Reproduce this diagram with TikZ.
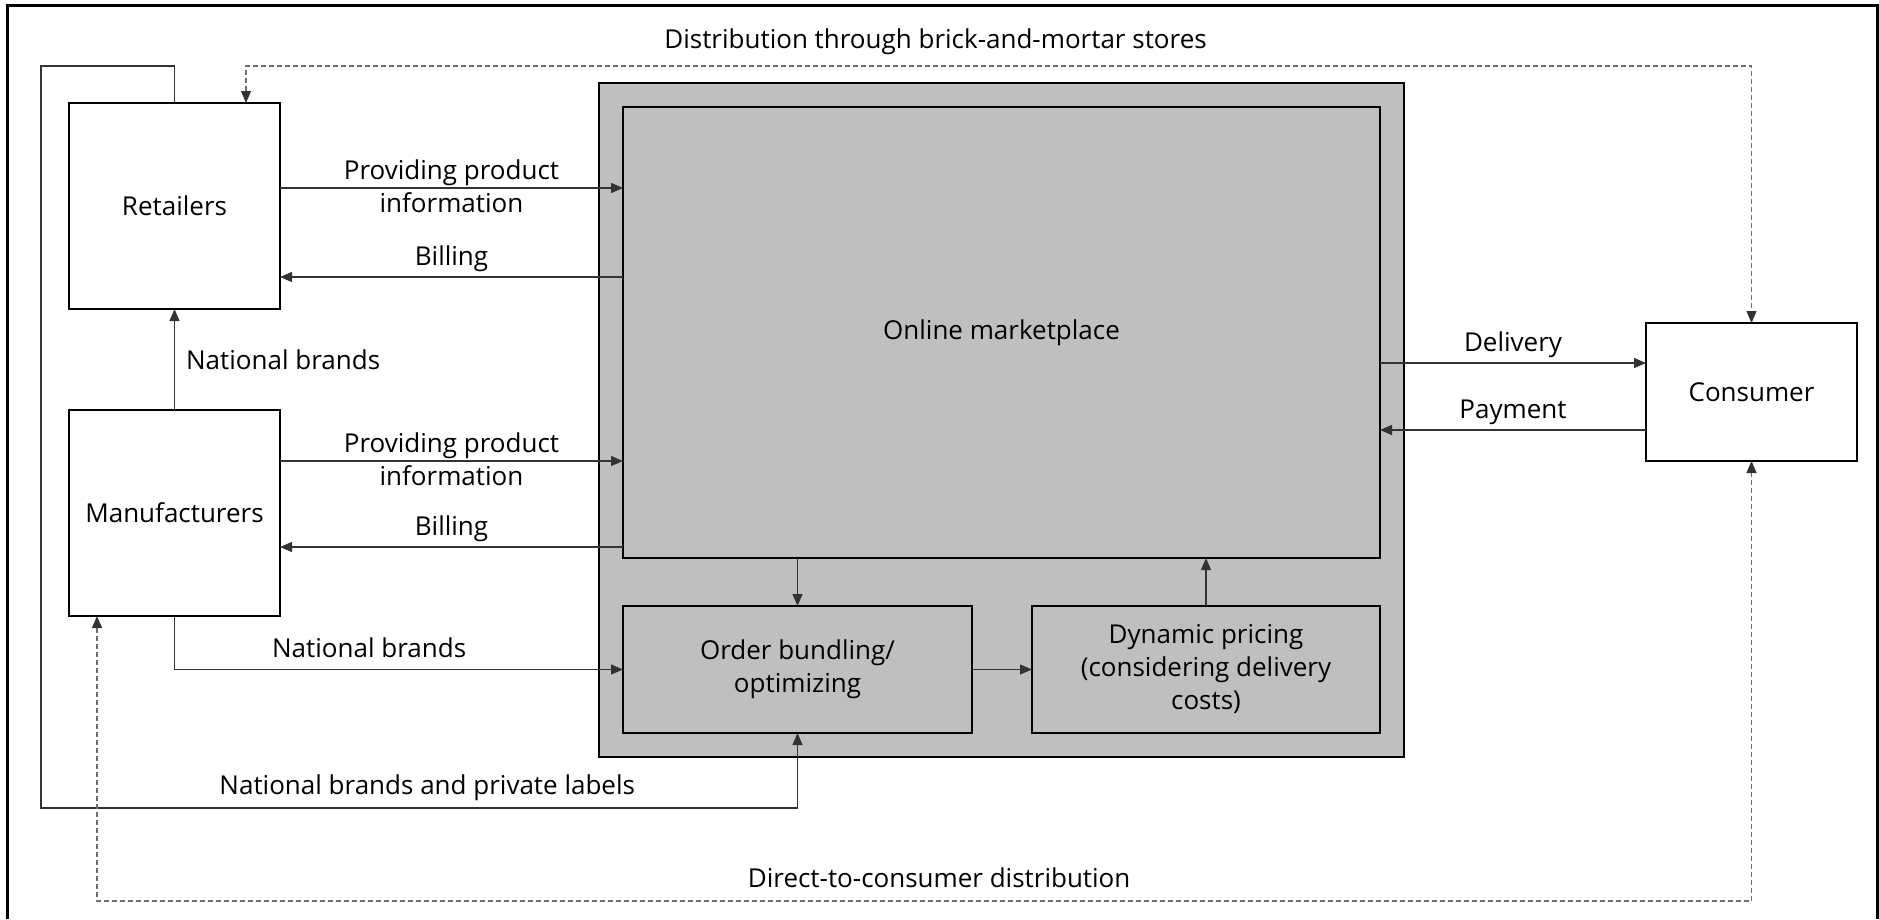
\documentclass[tikz,border=0pt]{standalone}
\usepackage{fontspec}
\setmainfont{Open Sans}
\usetikzlibrary{arrows.meta,positioning,fit,backgrounds,calc}

\definecolor{panelgray}{HTML}{BFBFBF}
\definecolor{flowgray}{HTML}{333333}
\definecolor{dashgray}{HTML}{6E6E6E}

\newcommand{\lblfont}{\fontsize{26}{33}\selectfont}

\tikzset{
  %% Market actors (white boxes)
  actorbox/.style={
    rectangle, draw=black, line width=2.2pt, fill=white,
    minimum width=211pt, minimum height=206pt,
    align=center, font=\lblfont, inner sep=0pt, outer sep=0pt},
  %% Platform functions (gray boxes)
  procbox/.style={
    rectangle, draw=black, line width=2.2pt, fill=panelgray,
    minimum width=348pt, minimum height=127pt,
    align=center, font=\lblfont, inner sep=0pt, outer sep=0pt},
  %% Platform frame
  panel/.style={
    rectangle, draw=black, line width=2pt, fill=panelgray,
    inner sep=24pt, outer sep=0pt},
  %% Flow labels
  flowlbl/.style={font=\lblfont, text=black, inner sep=0pt, anchor=base, yshift=#1},
  flowlbl/.default=12pt,
  infolbl/.style={font=\lblfont, text=black, inner sep=0pt, align=center, yshift=2pt},
  sidelbl/.style={font=\lblfont, text=black, inner sep=0pt, anchor=west, xshift=11pt},
  %% Arrows
  arrow/.style={-{Triangle[length=12pt,width=10pt]}, line width=1.2pt, flowgray},
  darrow/.style={{Triangle[length=12pt,width=10pt,color=flowgray]}-{Triangle[length=12pt,width=10pt,color=flowgray]},
    line width=1.2pt, dashgray, dash pattern=on 5pt off 3pt},
}

\begin{document}
\begin{tikzpicture}[x=1pt, y=-1pt, node distance=101pt and 60pt]

  \useasboundingbox (0,0) rectangle (1879,919);

  %% Outer frame
  \draw[line width=3pt] (7,919) |- (1877,5) -- (1877,919);

  %% Actors
  \node[actorbox] (ret) at (174.5,206) {Retailers};
  \node[actorbox, below=of ret] (man) {Manufacturers};
  \node[actorbox, minimum height=138pt] (cons) at (1751.5,392) {Consumer};

  %% Platform
  \node[procbox, minimum width=757pt, minimum height=451pt] (mkt) at (1001.5,332.5) {Online marketplace};
  \node[procbox, minimum width=349pt, below right=48pt and 0pt of mkt.south west] (order) {Order bundling/\\optimizing};
  \node[procbox, right=of order] (dyn) {Dynamic pricing\\(considering delivery\\costs)};
  \begin{scope}[on background layer]
    \node[panel, fit=(mkt)(order)(dyn)] (platform) {};
  \end{scope}

  %% Flow levels
  \coordinate (rinfo) at (0,188);
  \coordinate (rbill) at (0,277);
  \coordinate (minfo) at (0,461);
  \coordinate (mbill) at (0,547);
  \coordinate (dlv)   at (0,363);
  \coordinate (pay)   at (0,430);

  %% Retailers <-> marketplace
  \draw[arrow] (ret.east |- rinfo) -- node[infolbl] {Providing product\\information} (mkt.west |- rinfo);
  \draw[arrow] (mkt.west |- rbill) -- node[flowlbl] {Billing} (ret.east |- rbill);

  %% Manufacturers <-> marketplace
  \draw[arrow] (man.east |- minfo) -- node[infolbl] {Providing product\\information} (mkt.west |- minfo);
  \draw[arrow] (mkt.west |- mbill) -- node[flowlbl] {Billing} (man.east |- mbill);
  \draw[arrow] (man.north) -- node[sidelbl] {National brands} (ret.south);
  \draw[arrow] (man.south) |- node[flowlbl, pos=0.717] {National brands} (order.west);

  %% Inside the platform
  \draw[arrow] (mkt.south -| order.north) -- (order.north);
  \draw[arrow] (order) -- (dyn);
  \draw[arrow] (dyn.north) -- (dyn.north |- mkt.south);

  %% Marketplace <-> consumer
  \draw[arrow] (mkt.east |- dlv) -- node[flowlbl] {Delivery} (cons.west |- dlv);
  \draw[arrow] (cons.west |- pay) -- node[flowlbl] {Payment} (mkt.east |- pay);

  %% Retailers' own channel into the platform
  \coordinate (loopnw) at (41,66);
  \coordinate (loopsw) at (41,808);
  \draw[arrow] (ret.north) |- (loopnw) -- (loopsw)
    -| node[flowlbl=14pt, pos=0.25, xshift=8pt] {National brands and private labels} (order.south);

  %% Offline and direct channels
  \coordinate (shop)   at (246,66);
  \coordinate (direct) at (97,901);
  \draw[darrow] (ret.north -| shop) -- (shop)
    -| node[flowlbl=18pt, pos=0.229] {Distribution through brick-and-mortar stores} (cons.north);
  \draw[darrow] (man.south -| direct) -- (direct)
    -| node[flowlbl=14pt, pos=0.2545] {Direct-to-consumer distribution} (cons.south);

\end{tikzpicture}
\end{document}
